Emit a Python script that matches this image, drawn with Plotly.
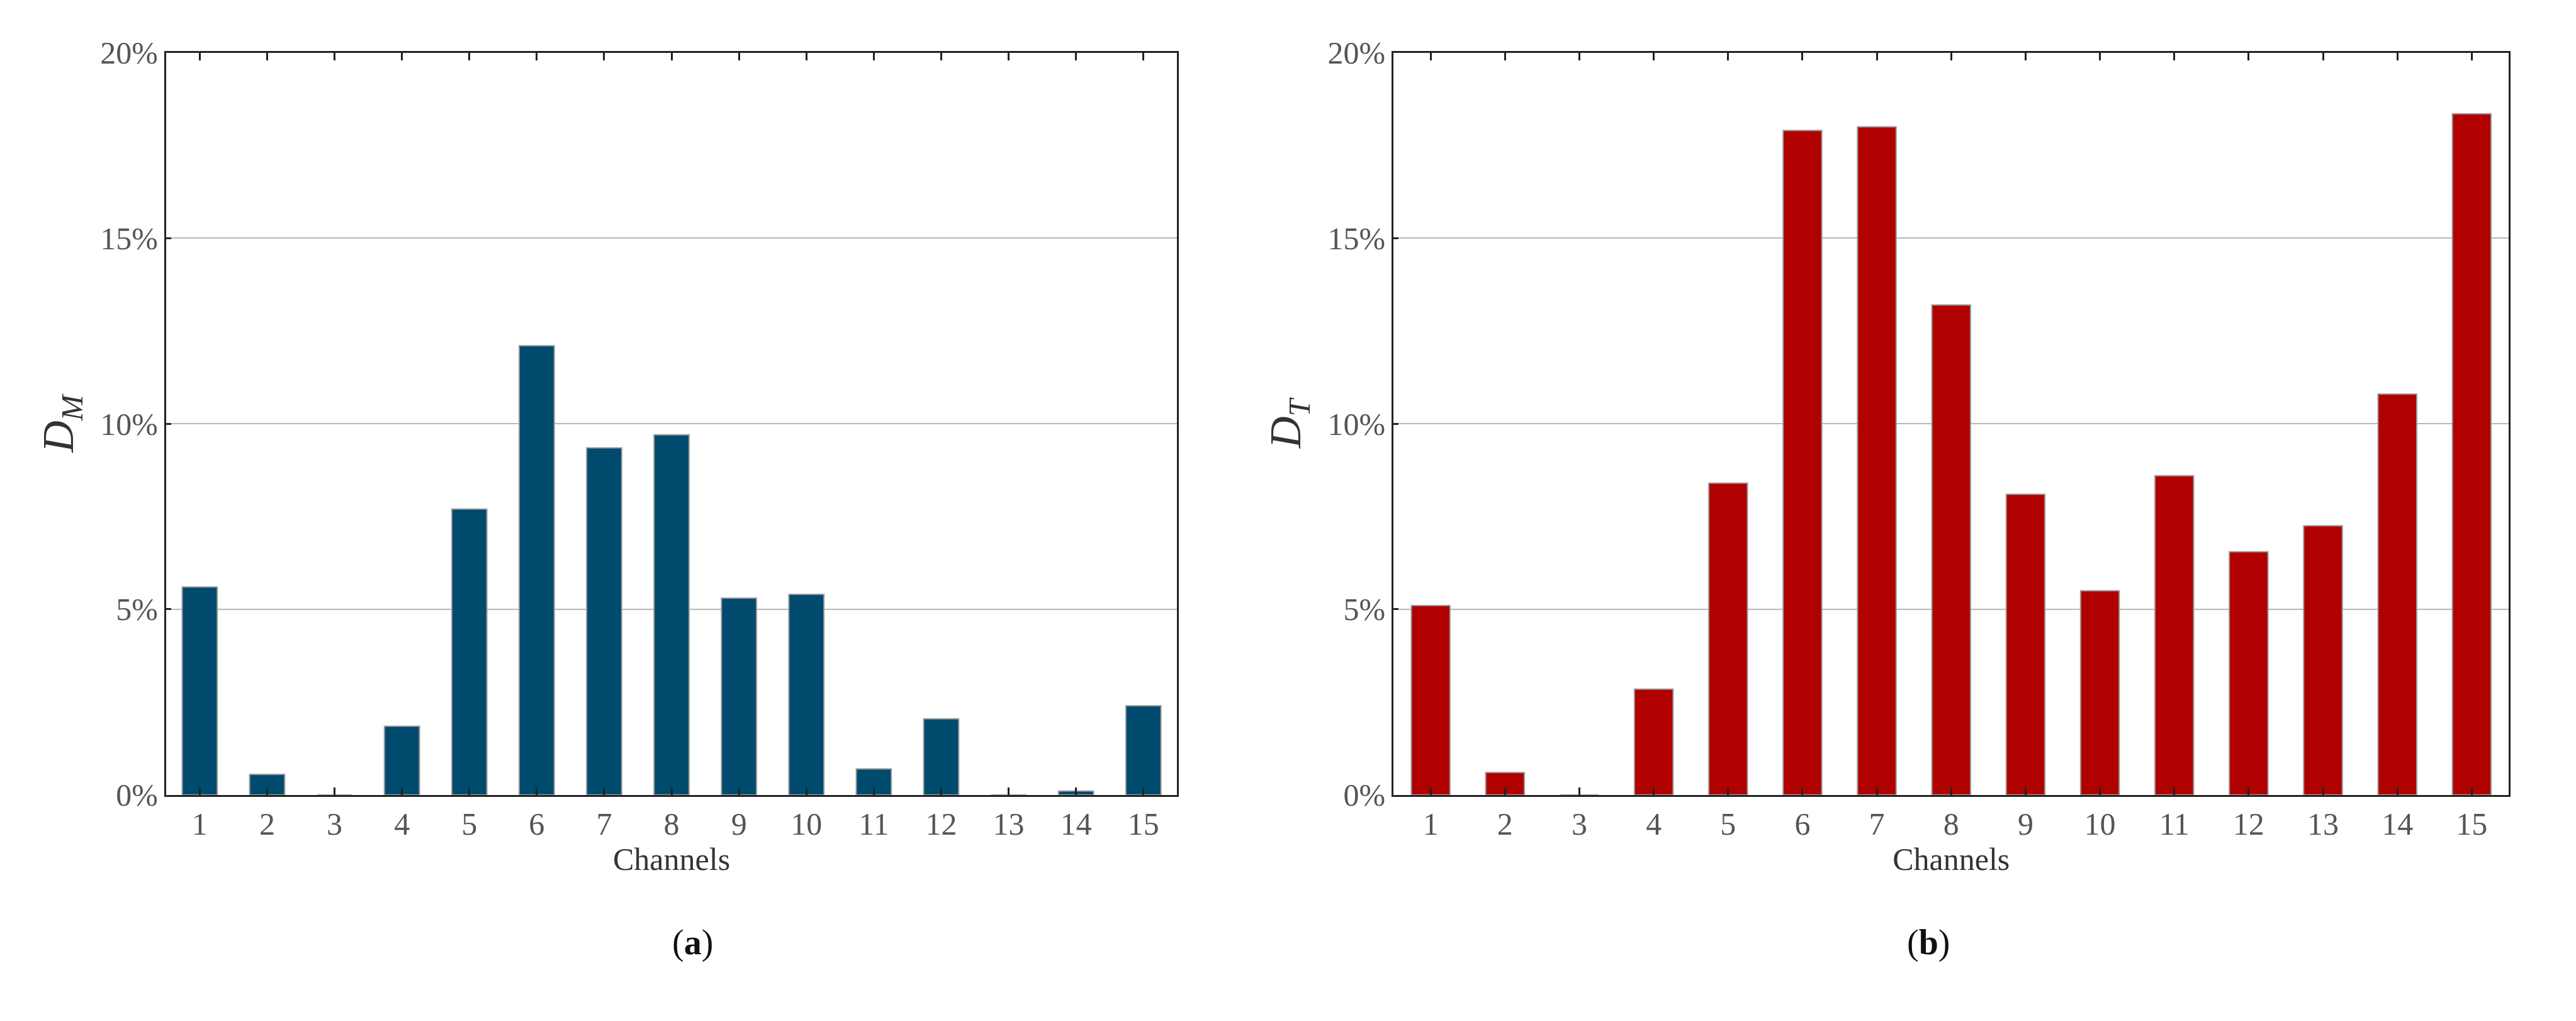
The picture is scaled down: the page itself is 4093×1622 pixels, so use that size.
import plotly.graph_objects as go

channels = [str(i) for i in range(1, 16)]
dm_values = [5.6, 0.55, 0, 1.85, 7.7, 12.1, 9.35, 9.7, 5.3, 5.4, 0.7, 2.05, 0, 0.1, 2.4]
dt_values = [5.1, 0.6, 0, 2.85, 8.4, 17.9, 18.0, 13.2, 8.1, 5.5, 8.6, 6.55, 7.25, 10.8, 18.35]
y_ticks = [0, 5, 10, 15, 20]
y_labels = ["0%", "5%", "10%", "15%", "20%"]

FONT = "Liberation Serif"

fig = go.Figure()
fig.add_trace(go.Bar(x=channels, y=dm_values, marker=dict(color="#004a6e", line=dict(color="#9a9a9a", width=2)),
                     width=0.52, xaxis="x", yaxis="y"))
fig.add_trace(go.Bar(x=channels, y=dt_values, marker=dict(color="#b00000", line=dict(color="#9a9a9a", width=2)),
                     width=0.52, xaxis="x2", yaxis="y2"))

xax = dict(type="category", showline=True, linecolor="#222", linewidth=3, mirror="ticks",
           ticks="inside", ticklen=12, tickwidth=3, tickcolor="#222",
           tickfont=dict(size=50, color="#555", family=FONT),
           title=dict(text="Channels", font=dict(size=50, color="#333", family=FONT), standoff=4))
yax = dict(range=[0, 20], tickvals=y_ticks, ticktext=y_labels, showline=True, linecolor="#222", linewidth=3,
           mirror=True, showgrid=True, gridcolor="#b8b8b8", gridwidth=2, zeroline=False,
           ticks="inside", ticklen=8, tickwidth=3, tickcolor="#222",
           tickfont=dict(size=50, color="#555", family=FONT))

fig.update_layout(
    width=4093, height=1622, showlegend=False, plot_bgcolor="white", paper_bgcolor="white",
    margin=dict(l=0, r=0, t=0, b=0),
    xaxis=dict(xax, domain=[0.0625, 0.455], anchor="y"),
    yaxis=dict(yax, domain=[0.216, 0.969], anchor="x",
               title=dict(text="<i>D<sub>M</sub></i>", font=dict(size=70, color="#333", family=FONT), standoff=20)),
    xaxis2=dict(xax, domain=[0.539, 0.972], anchor="y2"),
    yaxis2=dict(yax, domain=[0.216, 0.969], anchor="x2",
                title=dict(text="<i>D<sub>T</sub></i>", font=dict(size=70, color="#333", family=FONT), standoff=20)),
    annotations=[
        dict(text="(<b>a</b>)", x=0.2585, y=0.045, xref="paper", yref="paper", showarrow=False,
             font=dict(size=56, color="#111", family=FONT)),
        dict(text="(<b>b</b>)", x=0.7555, y=0.045, xref="paper", yref="paper", showarrow=False,
             font=dict(size=56, color="#111", family=FONT)),
    ],
)

fig.write_html("out.html")
